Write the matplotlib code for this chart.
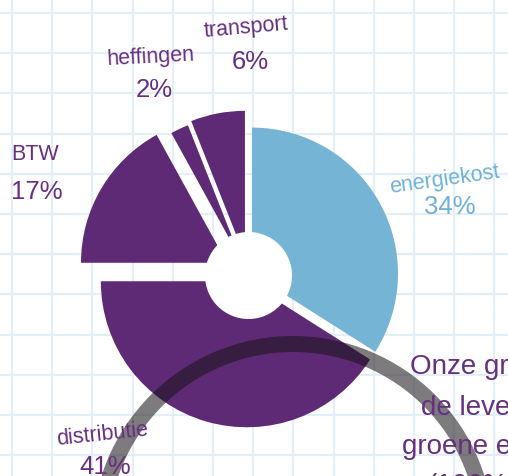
import numpy as np
import matplotlib
matplotlib.use("Agg")
import matplotlib.pyplot as plt
from matplotlib.patches import Circle, Arc

# ---- data ----
categories = ["energiekost", "distributie", "BTW", "heffingen", "transport"]
shares = [34, 41, 17, 2, 6]
pct_labels = ["34%", "41%", "17%", "2%", "6%"]
side_text = ["Onze groene", "de levering", "groene elektriciteit", "(100%"]

# ---- styles ----
PURPLE = "#5E2A75"
BLUE = "#76B4D6"
TXT_PURPLE = "#66307F"
TXT_BLUE = "#6FB1D8"
slice_colors = [BLUE, PURPLE, PURPLE, PURPLE, PURPLE]
explode = [4, 6, 25, 16, 19]   # px offsets
FONT = ["Liberation Sans", "DejaVu Sans"]

W, H = 508, 477
fig = plt.figure(figsize=(W / 100, H / 100), dpi=100)
ax = fig.add_axes([0, 0, 1, 1])

cx, cy = 248.5, H - 276.5
R = 146

ax.pie(shares, explode=explode, colors=slice_colors, startangle=90,
       counterclock=False, center=(cx, cy), radius=R,
       wedgeprops=dict(linewidth=0, zorder=2))

ax.set_xlim(0, W)
ax.set_ylim(0, H)
ax.set_aspect("equal")
ax.axis("off")

# grid paper
grid_col = "#E3EEF6"
for gx in np.arange(12, W, 40.2):
    ax.axvline(gx, color=grid_col, lw=1.6, zorder=0)
for gy in np.arange(14, H, 40.2):
    ax.axhline(H - gy, color=grid_col, lw=1.6, zorder=0)

# hole
ax.add_patch(Circle((cx, cy), 43.5, facecolor="white", edgecolor="none", zorder=3))

# grey arc
ax.add_patch(Arc((293, H - 538), 2 * 193, 2 * 193, theta1=0, theta2=180,
                 color=(0.1, 0.08, 0.1), alpha=0.56, lw=16 * 0.72, zorder=4))

# labels
lab_pos = {"energiekost": (445, 180, 8), "distributie": (102, 435, 6),
           "BTW": (35, 155, 0), "heffingen": (151, 57, 3), "transport": (246, 28, 5)}
pct_pos = {"energiekost": (450, 207), "distributie": (105, 467),
           "BTW": (37, 192), "heffingen": (154, 90), "transport": (250, 62)}
for cat, pct in zip(categories, pct_labels):
    col = TXT_BLUE if cat == "energiekost" else TXT_PURPLE
    x, y, rot = lab_pos[cat]
    ax.text(x, H - y, cat, ha="center", va="center", rotation=rot, color=col,
            fontsize=15.5, family=FONT, zorder=5)
    px, py = pct_pos[cat]
    ax.text(px, H - py, pct, ha="center", va="center", color=col,
            fontsize=18.5, family=FONT, zorder=5)

side_pos = [(410, 367), (421, 408), (402, 447), (427, 486)]
for t, (x, y) in zip(side_text, side_pos):
    ax.text(x, H - y, t, ha="left", va="center", color=TXT_PURPLE,
            fontsize=20, family=FONT, zorder=5)

fig.savefig("out.png", dpi=100)
